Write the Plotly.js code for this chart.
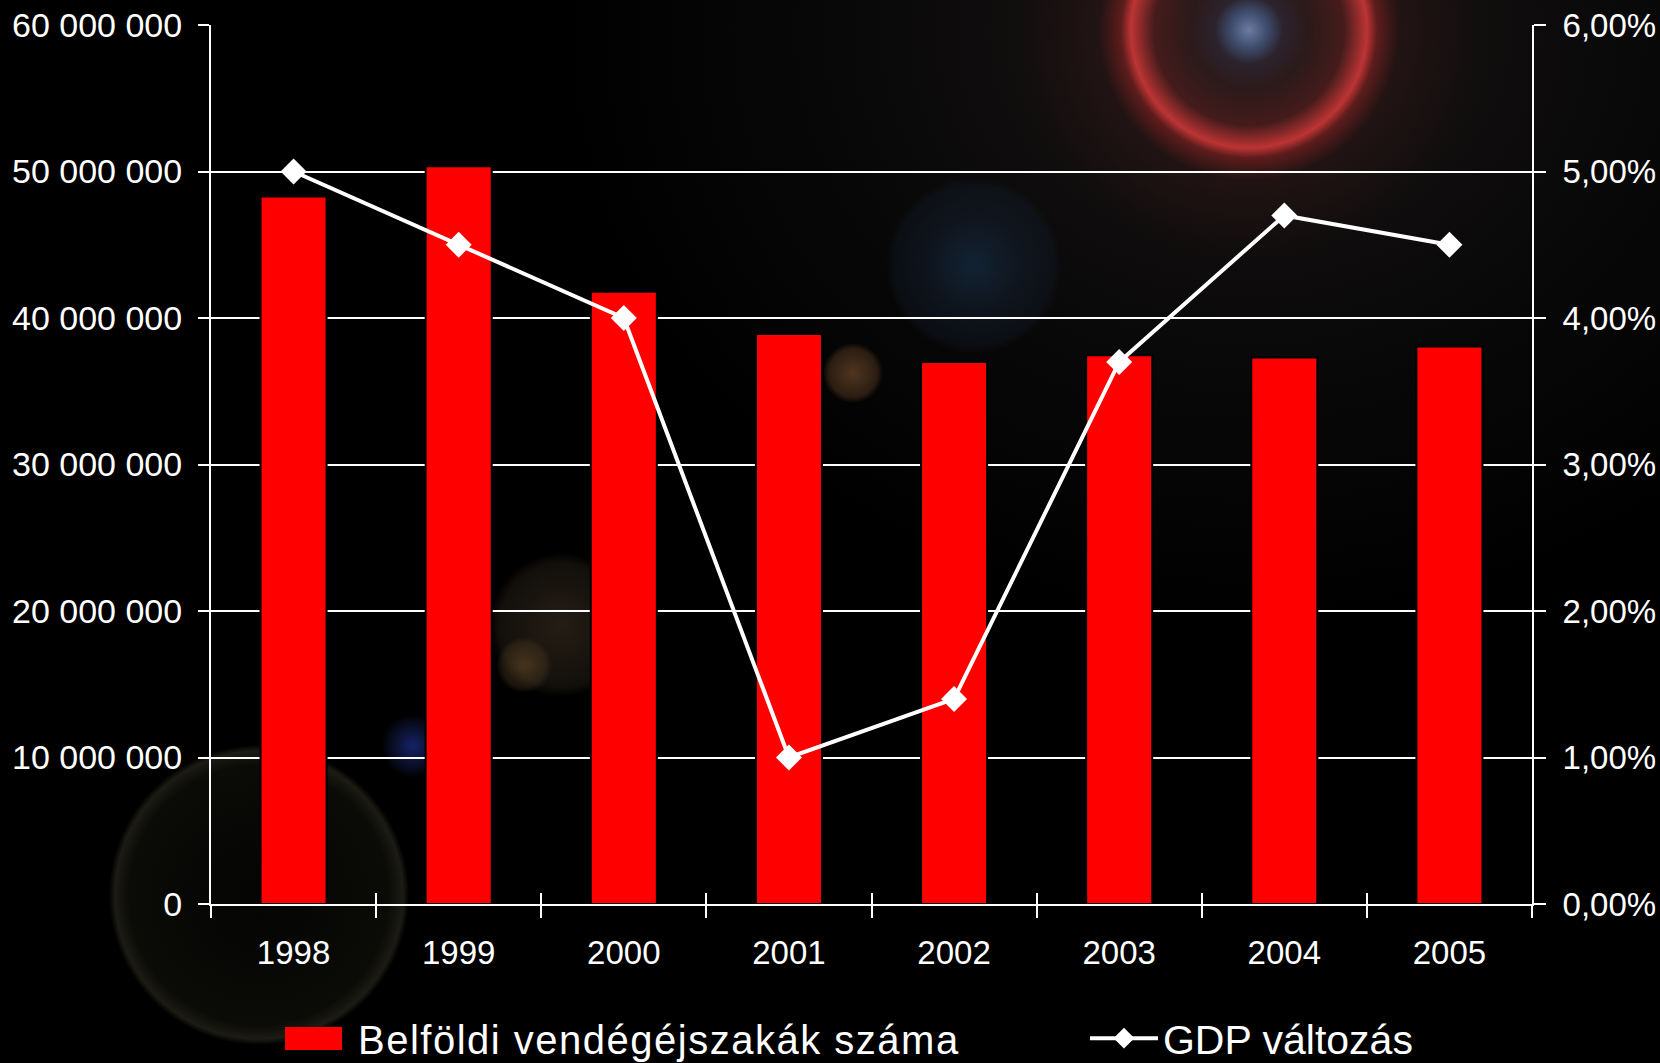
<!DOCTYPE html>
<html>
<head>
<meta charset="utf-8">
<script src="https://cdn.plot.ly/plotly-3.0.1.min.js"></script>
<style>
html, body { margin: 0; padding: 0; }
body {
  width: 1660px; height: 1063px; overflow: hidden;
  background:
    radial-gradient(circle at 1249px 30px, rgba(110,130,170,0.95) 0px, rgba(70,90,130,0.8) 18px, rgba(50,40,55,0.7) 34px, rgba(60,30,30,0.5) 60px, rgba(150,40,40,0.35) 95px, rgba(230,60,60,0.8) 118px, rgba(180,40,40,0.45) 128px, rgba(70,25,25,0.25) 150px, rgba(0,0,0,0) 230px),
    radial-gradient(circle at 974px 265px, rgba(25,55,85,0.55) 0px, rgba(25,45,70,0.35) 45px, rgba(20,35,55,0.25) 80px, rgba(0,0,0,0) 88px),
    radial-gradient(circle at 853px 373px, rgba(120,80,45,0.65) 0px, rgba(90,60,35,0.45) 24px, rgba(0,0,0,0) 30px),
    radial-gradient(circle at 524px 665px, rgba(110,80,45,0.55) 0px, rgba(80,60,35,0.35) 22px, rgba(0,0,0,0) 28px),
    radial-gradient(circle at 561px 625px, rgba(80,65,45,0.45) 0px, rgba(60,50,35,0.3) 62px, rgba(0,0,0,0) 72px),
    radial-gradient(circle at 413px 746px, rgba(30,50,150,0.7) 0px, rgba(25,35,90,0.35) 22px, rgba(0,0,0,0) 32px),
    radial-gradient(circle at 259px 895px, rgba(20,20,15,0.2) 0px, rgba(35,35,25,0.3) 130px, rgba(70,70,50,0.4) 144px, rgba(0,0,0,0) 150px),
    radial-gradient(ellipse 700px 600px at 1249px 30px, rgba(45,35,35,0.7) 0px, rgba(25,22,22,0.5) 300px, rgba(0,0,0,0) 700px),
    #000;
}
#chart { width: 1660px; height: 1063px; }
/* bar-like red legend key */
.legend .traces path.js-line { stroke-width: 23px !important; stroke-dasharray: 57px 2000px; }
.legend text.legendtext, .legend2 text.legendtext { letter-spacing: 1.5px; }
.legend g.scrollbox, .legend2 g.scrollbox { clip-path: none !important; }
</style>
</head>
<body>
<div id="chart"></div>
<script>
// ---- data ----
var years = ['1998', '1999', '2000', '2001', '2002', '2003', '2004', '2005'];
var guestNights = [48300000, 50350000, 41800000, 38900000, 37000000, 37450000, 37300000, 38050000];
var gdpChange = [0.050, 0.045, 0.040, 0.010, 0.014, 0.037, 0.047, 0.045];
var barName = 'Belföldi vendégéjszakák száma';
var lineName = 'GDP változás';

var FONT = '"Liberation Sans", Arial, sans-serif';

var barTrace = {
  type: 'bar',
  x: years,
  y: guestNights,
  name: barName,
  showlegend: false,
  marker: { color: '#ff0000', line: { color: '#000000', width: 2 } },
  hoverinfo: 'x+y'
};

// legend-only entry (no visible marks) giving the wide red legend key;
// it also carries the inner half of the crossing category ticks (xaxis2)
var barLegend = {
  type: 'scatter',
  x: years,
  y: years.map(function () { return null; }),
  xaxis: 'x2',
  mode: 'lines',
  name: barName,
  legend: 'legend',
  line: { color: '#ff0000', width: 10 },
  hoverinfo: 'skip'
};

var lineTrace = {
  type: 'scatter',
  x: years,
  y: gdpChange,
  yaxis: 'y2',
  name: lineName,
  legend: 'legend2',
  mode: 'lines+markers',
  line: { color: '#ffffff', width: 4 },
  marker: { symbol: 'diamond', size: 20, color: '#ffffff' }
};

var tickFont = { family: FONT, size: 33, color: '#ffffff' };

var layout = {
  width: 1660,
  height: 1063,
  margin: { l: 211, r: 128, t: 25, b: 159 },
  paper_bgcolor: 'rgba(0,0,0,0)',
  plot_bgcolor: 'rgba(0,0,0,0)',
  separators: ', ',
  font: { family: FONT, color: '#ffffff' },
  bargap: 0.6,
  showlegend: true,
  legend: {
    orientation: 'h',
    xref: 'container', yref: 'container',
    x: 0.1687, xanchor: 'left',
    y: 0.023, yanchor: 'middle',
    font: { family: FONT, size: 40, color: '#ffffff' },
    itemwidth: 68,
    bgcolor: 'rgba(0,0,0,0)'
  },
  legend2: {
    orientation: 'h',
    xref: 'container', yref: 'container',
    x: 0.6536, xanchor: 'left',
    y: 0.023, yanchor: 'middle',
    font: { family: FONT, size: 41, color: '#ffffff' },
    itemwidth: 68,
    bgcolor: 'rgba(0,0,0,0)'
  },
  xaxis: {
    type: 'category',
    range: [-0.5, 7.5],
    tickson: 'boundaries',
    ticks: 'outside',
    ticklen: 12,
    tickwidth: 2,
    tickcolor: '#ffffff',
    showline: true,
    linecolor: '#ffffff',
    linewidth: 2,
    showgrid: false,
    tickfont: tickFont,
    ticklabelstandoff: 18,
    fixedrange: true
  },
  xaxis2: {
    type: 'category',
    overlaying: 'x',
    anchor: 'y',
    side: 'bottom',
    range: [-0.5, 7.5],
    tickson: 'boundaries',
    ticks: 'inside',
    ticklen: 11,
    tickwidth: 2,
    tickcolor: '#ffffff',
    showticklabels: false,
    showline: false,
    showgrid: false,
    zeroline: false,
    fixedrange: true
  },
  yaxis: {
    range: [0, 60000000],
    dtick: 10000000,
    tickformat: ',d',
    showgrid: true,
    gridcolor: '#ffffff',
    gridwidth: 2,
    zeroline: false,
    showline: true,
    linecolor: '#ffffff',
    linewidth: 2,
    ticks: 'outside',
    ticklen: 11,
    tickwidth: 2,
    tickcolor: '#ffffff',
    tickfont: { family: FONT, size: 34, color: '#ffffff' },
    ticklabelstandoff: 9,
    fixedrange: true
  },
  yaxis2: {
    overlaying: 'y',
    side: 'right',
    range: [0, 0.06],
    dtick: 0.01,
    tickformat: '.2%',
    showgrid: false,
    zeroline: false,
    showline: true,
    linecolor: '#ffffff',
    linewidth: 2,
    ticks: 'outside',
    ticklen: 12,
    tickwidth: 2,
    tickcolor: '#ffffff',
    tickfont: tickFont,
    ticklabelstandoff: 10,
    fixedrange: true
  }
};

Plotly.newPlot('chart', [barTrace, barLegend, lineTrace], layout, { displayModeBar: false, staticPlot: true });
</script>
</body>
</html>
